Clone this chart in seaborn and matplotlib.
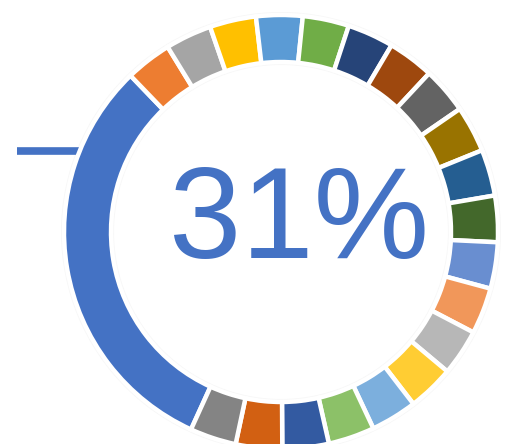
import matplotlib
matplotlib.use("Agg")
import matplotlib.pyplot as plt
import seaborn as sns

# ---- data ----
main_label = "31%"
main_value = 31.0
other_count = 20
other_values = [69.0 / 20] * 20  # equal remaining slices
main_color = "#4472C4"
other_colors = [
    "#ED7D31", "#A5A5A5", "#FFC000", "#5B9BD5", "#70AD47",
    "#264478", "#9E480E", "#636363", "#997300", "#255E91",
    "#43682B", "#698ED0", "#F1975A", "#B7B7B7", "#FFCD33",
    "#7CAFDD", "#8CC168", "#335AA1", "#D26012", "#848484",
]

sns.set_style("white")
plt.rcParams['font.family'] = ['Liberation Sans', 'DejaVu Sans']

W, H = 507, 444
fig = plt.figure(figsize=(W / 100, H / 100), dpi=100)
ax = fig.add_axes([0, 0, 1, 1])
cx, cy = 281, 232

R = 217
width = 47

# faint halo behind ring
ax.pie([1], radius=R + 3, colors=["#F7F7F7"], startangle=90,
       wedgeprops=dict(width=width + 6, edgecolor="none", zorder=0))

values = [main_value] + other_values
colors = sns.color_palette([main_color] + other_colors)
ax.pie(values, radius=R, colors=colors, startangle=245.5, counterclock=False,
       wedgeprops=dict(width=width, edgecolor="white", linewidth=3.2, zorder=1))

# leader line
ax.plot([17 - cx, 95 - cx], [cy - 151, cy - 151], color=main_color,
        linewidth=5.5, solid_capstyle="butt", zorder=0.5)

ax.text(299 - cx, cy - 258, main_label, ha="center", va="baseline",
        fontsize=93.5, color=main_color, zorder=2)

ax.set_xlim(-cx, W - cx)
ax.set_ylim(-(H - cy), cy)
ax.set_aspect("equal")
ax.axis("off")

fig.savefig("out.png", dpi=100)
